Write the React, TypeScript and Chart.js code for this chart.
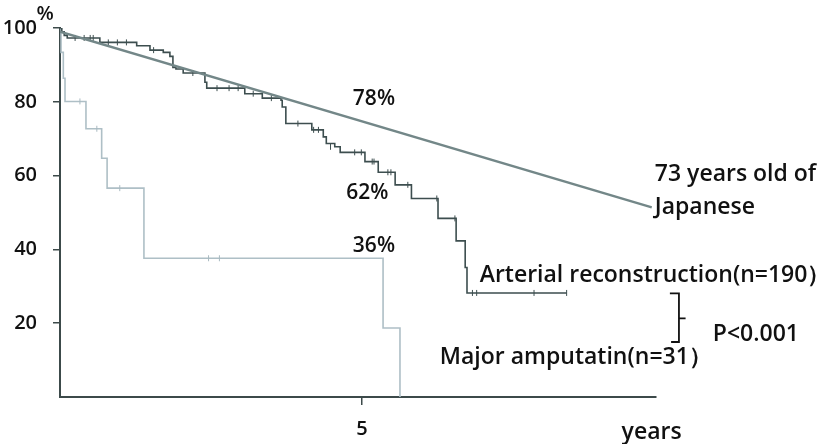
import React, { useEffect, useRef } from "react";
import { Chart, registerables } from "chart.js";

Chart.register(...registerables);

// Survival curves (years, % surviving) — step values after each event
const arterialYears = [0, 0.03, 0.07, 0.12, 0.66, 1.27, 1.49, 1.71, 1.82, 1.87, 1.92, 2.04, 2.40, 2.43, 3.06, 3.35, 3.66, 3.68, 3.74, 4.17, 4.36, 4.41, 4.55, 4.64, 5.05, 5.27, 5.55, 5.82, 6.26, 6.56, 6.71, 6.74, 8.39];
const arterialValues = [100, 99, 98, 97.3, 96.1, 95.2, 94, 93.4, 92.3, 89.3, 88.9, 87.8, 85.3, 83.7, 82.2, 81, 80.4, 78.6, 74.1, 72.4, 70.5, 68.7, 67.8, 66.3, 63.8, 60.9, 57.5, 53.8, 48.4, 42.3, 35.1, 28.2, 28.2];
const arterialCensorYears = [0.25, 0.4, 0.5, 0.55, 0.8, 0.95, 1.1, 1.55, 2.2, 2.6, 2.8, 2.95, 3.2, 3.5, 3.94, 4.2, 4.28, 4.48, 4.88, 4.99, 5.17, 5.2, 5.43, 5.48, 5.76, 6.24, 6.54, 6.83, 6.9, 7.85, 8.39];
const arterialCensorValues = [97.3, 97.3, 97.3, 97.3, 96.1, 96.1, 96.1, 94, 87.8, 83.7, 83.7, 83.7, 82.2, 81, 74.1, 72.4, 72.4, 67.8, 66.3, 66.3, 63.8, 63.8, 60.9, 60.9, 57.5, 53.8, 48.4, 28.2, 28.2, 28.2, 28.2];

const amputationYears = [0, 0.017, 0.055, 0.083, 0.43, 0.69, 0.78, 1.39, 5.35, 5.63];
const amputationValues = [100, 93.4, 86.4, 80.1, 72.7, 64.7, 56.6, 37.6, 18.7, 0];
const amputationCensorYears = [0.33, 0.61, 0.99, 2.46, 2.64];
const amputationCensorValues = [80.1, 72.7, 56.6, 37.6, 37.6];

const populationYears = [0, 9.8];
const populationValues = [99, 51.4];

const xTickValues = [5];
const yTickValues = [20, 40, 60, 80, 100];

// Annotation texts with anchor in data coordinates (years, %)
const noteTexts = ["78%", "62%", "36%", "73 years old of", "Japanese", "Arterial reconstruction(n=190）", "Major amputatin(n=31）", "P<0.001", "years", "%"];
const noteYears = [4.85, 4.74, 4.85, 9.85, 9.85, 6.95, 6.29, 10.81, 9.3, -0.39];
const noteValues = [80.8, 55.3, 40.9, 60.3, 51.4, 32.9, 10.6, 17, -9.6, 103.6];
const noteSizes = [21, 21, 21, 23, 23, 23, 23, 23, 23, 20];

const AXIS = "#3c4a4a";
const TEXT = "#111111";
const FONT = "'Open Sans', Lato, sans-serif";
const WEIGHT = "600";

function pts(xs: number[], ys: number[]) {
  return xs.map((x, i) => ({ x, y: ys[i] }));
}

const notesPlugin = {
  id: "notes",
  afterDraw(chart: any) {
    const ctx = chart.ctx;
    const xs = chart.scales.x;
    const ys = chart.scales.y;
    ctx.save();
    ctx.fillStyle = TEXT;
    ctx.textBaseline = "middle";
    ctx.textAlign = "left";
    noteTexts.forEach((t, i) => {
      ctx.font = `${WEIGHT} ${noteSizes[i]}px ${FONT}`;
      ctx.fillText(t, xs.getPixelForValue(noteYears[i]), ys.getPixelForValue(noteValues[i]));
    });
    // bracket linking the two groups
    const bx = xs.getPixelForValue(10.25);
    const bTop = ys.getPixelForValue(28.1);
    const bBot = ys.getPixelForValue(14.9);
    const bMid = ys.getPixelForValue(21.3);
    ctx.strokeStyle = TEXT;
    ctx.lineWidth = 1.8;
    ctx.beginPath();
    ctx.moveTo(xs.getPixelForValue(10.1), bTop);
    ctx.lineTo(bx, bTop);
    ctx.lineTo(bx, bBot);
    ctx.lineTo(xs.getPixelForValue(10.12), bBot);
    ctx.moveTo(bx, bMid);
    ctx.lineTo(xs.getPixelForValue(10.36), bMid);
    ctx.stroke();
    ctx.restore();
  },
};

export default function App() {
  const ref = useRef<HTMLCanvasElement | null>(null);
  useEffect(() => {
    if (!ref.current) return;
    const chart = new Chart(ref.current, {
      type: "line",
      data: {
        datasets: [
          {
            label: "73 years old of Japanese",
            data: pts(populationYears, populationValues),
            borderColor: "#738788",
            borderWidth: 2.5,
            pointRadius: 0,
          },
          {
            label: "Arterial censored",
            data: pts(arterialCensorYears, arterialCensorValues),
            showLine: false,
            pointStyle: "line",
            rotation: 90,
            pointRadius: 3,
            borderColor: "#3d4e4f",
            borderWidth: 1,
          },
          {
            label: "Arterial reconstruction(n=190）",
            data: pts(arterialYears, arterialValues),
            stepped: "before",
            borderColor: "#3d4e4f",
            borderWidth: 1.6,
            pointRadius: 0,
          },
          {
            label: "Amputation censored",
            data: pts(amputationCensorYears, amputationCensorValues),
            showLine: false,
            pointStyle: "line",
            rotation: 90,
            pointRadius: 3,
            borderColor: "#a9bac1",
            borderWidth: 1,
          },
          {
            label: "Major amputatin(n=31）",
            data: pts(amputationYears, amputationValues),
            stepped: "before",
            borderColor: "#aebfc6",
            borderWidth: 1.6,
            pointRadius: 0,
          },
        ],
      },
      options: {
        animation: false,
        responsive: false,
        events: [],
        layout: { padding: { left: 0, top: 26, right: 173, bottom: 0 } },
        plugins: { legend: { display: false }, tooltip: { enabled: false } },
        scales: {
          x: {
            type: "linear",
            min: 0,
            max: 9.87,
            afterBuildTicks(scale: any) {
              scale.ticks = xTickValues.map((v) => ({ value: v }));
            },
            afterFit(scale: any) {
              scale.height = 47;
            },
            grid: { drawOnChartArea: false, drawTicks: true, tickLength: 8, color: AXIS, lineWidth: 1.5 },
            border: { display: true, color: AXIS, width: 2 },
            ticks: { color: TEXT, font: { family: FONT, size: 20, weight: WEIGHT }, padding: 12, maxRotation: 0 },
          },
          y: {
            type: "linear",
            min: 0,
            max: 100,
            afterBuildTicks(scale: any) {
              scale.ticks = yTickValues.map((v) => ({ value: v }));
            },
            afterFit(scale: any) {
              scale.width = 60;
            },
            grid: { drawOnChartArea: false, drawTicks: true, tickLength: 7, color: AXIS, lineWidth: 1.5 },
            border: { display: true, color: AXIS, width: 2 },
            ticks: { color: TEXT, font: { family: FONT, size: 20, weight: WEIGHT }, padding: 16 },
          },
        },
      },
      plugins: [notesPlugin],
    } as any);
    return () => chart.destroy();
  }, []);
  return (
    <div style={{ position: "absolute", left: 0, top: 0, width: 829, height: 444, background: "#fff" }}>
      <canvas ref={ref} width={829} height={444} style={{ display: "block", width: 829, height: 444 }} />
    </div>
  );
}
